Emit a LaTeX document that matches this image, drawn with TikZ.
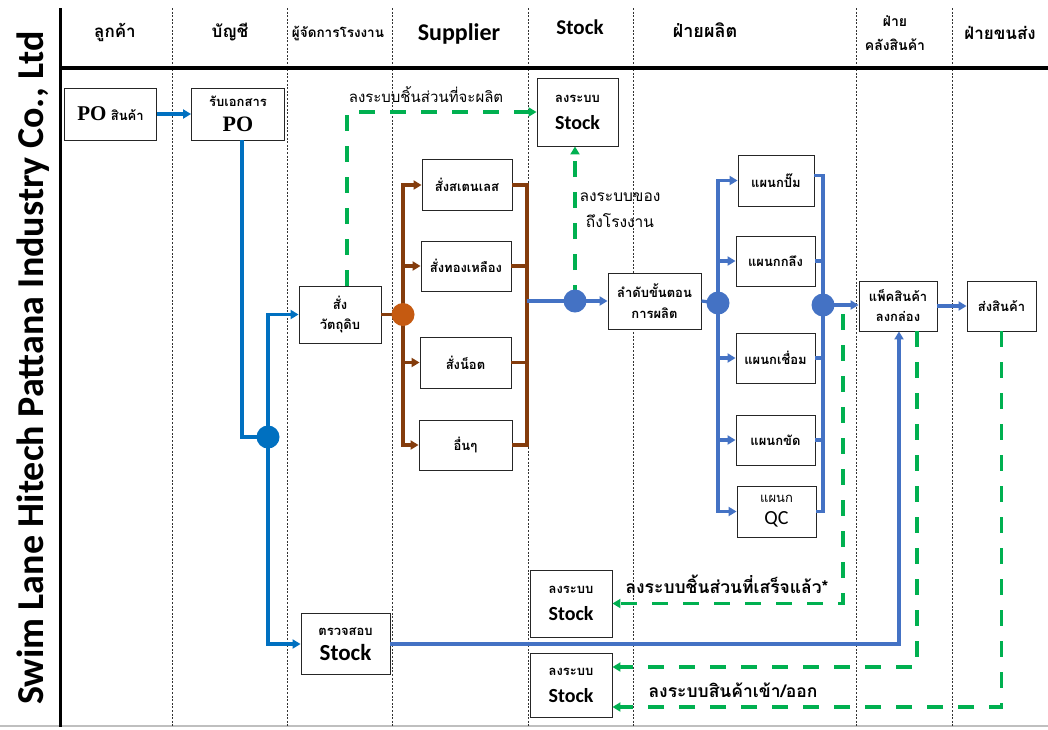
\documentclass[tikz,border=0pt]{standalone}
\usepackage{fontspec}
\setmainfont{Carlito}
\newfontfamily\thai[Script=Thai]{Loma}
\newfontfamily\serifb{Liberation Serif}
\usetikzlibrary{arrows.meta,calc}
\definecolor{bl}{HTML}{4472C4}
\definecolor{bld}{HTML}{0070C0}
\definecolor{brn}{HTML}{843C0C}
\definecolor{orn}{HTML}{C55A11}
\definecolor{grn}{HTML}{00B050}
\newcommand\stkfont{\rmfamily\bfseries\fontsize{20}{22}\selectfont}
\tikzset{
  box/.style={draw=black!85, line width=0.9pt, fill=white, align=center, inner sep=0pt,
    font=\thai\bfseries\fontsize{13}{18}\selectfont},
  hdr/.style={font=\thai\bfseries\fontsize{17}{22}\selectfont, align=center},
  hdrl/.style={font=\bfseries\fontsize{21}{24}\selectfont},
  lane/.style={draw=black!80, line width=0.7pt, dash pattern=on 2pt off 1.6pt},
  arr/.style={-{Triangle[length=8pt,width=9pt]}},
  bflow/.style={draw=bl, line width=3.2pt},
  lflow/.style={draw=bld, line width=3.2pt},
  brflow/.style={draw=brn, line width=3.2pt},
  gflow/.style={draw=grn, line width=3.4pt, dash pattern=on 16pt off 15pt},
  dot/.style={circle, inner sep=0pt, minimum size=23pt},
  glabel/.style={font=\thai\bfseries\fontsize{15}{20}\selectfont, align=center},
}
\begin{document}
\begin{tikzpicture}[x=1pt,y=-1pt]
\useasboundingbox[fill=white] (0,0) rectangle (1048,729);
% frame
\draw[black!25, line width=2pt] (0,726) -- (1048,726);
\foreach \lx in {172,287,392,528,633,856,952}
  \draw[lane] (\lx,8) -- (\lx,727);
\draw[black, line width=3pt] (60,8) -- (60,727);
\draw[black, line width=4.5pt] (60,68) -- (1048,68);
\node[rotate=90, font=\bfseries\fontsize{38}{40}\selectfont] (title) at (33,368) {Swim Lane Hitech Pattana Industry Co., Ltd};
% headers
\node[hdr] (h1) at (115,32) {ลูกค้า};
\node[hdr] (h2) at (230,32) {บัญชี};
\node[hdr, font=\thai\bfseries\fontsize{13.5}{16}\selectfont] (h3) at (338,34) {ผู้จัดการโรงงาน};
\node[hdrl, font=\bfseries\fontsize{24}{26}\selectfont] (h4) at (459,34) {Supplier};
\node[hdrl] (h5) at (580,27) {Stock};
\node[hdr, font=\thai\bfseries\fontsize{18}{22}\selectfont] (h6) at (705,30) {ฝ่ายผลิต};
\node[hdr, font=\thai\bfseries\fontsize{14}{24}\selectfont] (h7) at (895,33) {ฝ่าย\\คลังสินค้า};
\node[hdr] (h8) at (1000,33) {ฝ่ายขนส่ง};
% boxes
\node[box, minimum width=92pt, minimum height=52pt] (po) at (110.5,114) {{\serifb\bfseries\fontsize{21}{22}\selectfont PO} สินค้า};
\node[box, minimum width=93pt, minimum height=52pt] (rcv) at (238,114) {รับเอกสาร\\[7pt]{\serifb\bfseries\fontsize{22}{22}\selectfont PO}};
\node[box, minimum width=82pt, minimum height=57pt] (raw) at (340,314.5) {สั่ง\\[2pt]วัตถุดิบ};
\node[box, minimum width=90pt, minimum height=51pt] (ss) at (467,185) {สั่งสเตนเลส};
\node[box, minimum width=90pt, minimum height=50pt] (brs) at (466,266) {สั่งทองเหลือง};
\node[box, minimum width=91pt, minimum height=51pt] (nut) at (465.5,362.5) {สั่งน็อต};
\node[box, minimum width=93pt, minimum height=50pt] (oth) at (465.5,445) {อื่นๆ};
\node[box, minimum width=81pt, minimum height=68pt] (stk1) at (577.5,112) {ลงระบบ\\[9pt]{\stkfont Stock}};
\node[box, minimum width=93pt, minimum height=56pt] (seq) at (654.5,301) {ลำดับขั้นตอน\\[3pt]การผลิต};
\node[box, minimum width=76pt, minimum height=51pt] (stamp) at (776,180.5) {แผนกปั๊ม};
\node[box, minimum width=79pt, minimum height=50pt] (turn) at (775.5,261) {แผนกกลึง};
\node[box, minimum width=79pt, minimum height=50pt] (weld) at (775.5,358) {แผนกเชื่อม};
\node[box, minimum width=79pt, minimum height=50pt] (pol) at (775.5,440) {แผนกขัด};
\node[box, minimum width=79pt, minimum height=51pt] (qc) at (776.5,511.5) {{\mdseries แผนก}\\[4pt]{\rmfamily\mdseries\fontsize{20}{22}\selectfont QC}};
\node[box, minimum width=78pt, minimum height=50pt] (pack) at (898,306) {แพ็คสินค้า\\[2pt]ลงกล่อง};
\node[box, minimum width=69pt, minimum height=50pt] (ship) at (1001.5,306) {ส่งสินค้า};
\node[box, minimum width=89pt, minimum height=61pt] (chk) at (345.5,644) {ตรวจสอบ\\[7pt]{\rmfamily\bfseries\fontsize{23}{25}\selectfont Stock}};
\node[box, minimum width=82pt, minimum height=67pt] (stk2) at (571,603.5) {ลงระบบ\\[9pt]{\stkfont Stock}};
\node[box, minimum width=82pt, minimum height=64pt] (stk3) at (571,685) {ลงระบบ\\[9pt]{\stkfont Stock}};
% junction coordinates
\coordinate (j1) at (268,437);
\coordinate (j2) at (403,314.5);
\coordinate (kB) at (527,301);
\coordinate (j3) at (575,301);
\coordinate (j4) at (718,303);
\coordinate (j5) at (823,305);
\coordinate (g1) at (843,314);
% left blue flow
\draw[lflow, arr] (po) -- (rcv);
\draw[lflow] ([xshift=4pt]rcv.south) |- (j1);
\draw[lflow, arr] (j1) |- (raw.west);
\draw[lflow, arr] (j1) |- (chk.west);
% supplier (brown)
\draw[brflow] (raw.east) -- (j2);
\foreach \b in {ss,brs,nut,oth} {
  \draw[brflow, arr] (j2) |- (\b.west);
  \draw[brflow] (\b.east) -| (kB);
}
\draw[bflow] (kB) -- (j3);
\draw[bflow, arr] (j3) -- (seq.west);
% green top
\draw[gflow, arr] ([xshift=7pt]raw.north) |- (stk1.west);
\draw[gflow, arr] (j3) -- (j3 |- stk1.south);
% production
\draw[bflow] (seq.east) -- (j4);
\foreach \b in {stamp,turn,weld,pol,qc}
  \draw[bflow, arr] (j4) |- (\b.west);
\draw[bflow] ([yshift=5pt]stamp.east) -| (j5);
\foreach \b in {turn,weld,pol}
  \draw[bflow] (\b.east) -| (j5);
\draw[bflow] (qc.east) -| (j5);
\draw[bflow, arr] (j5) -- (j5 -| pack.west);
\draw[bflow, arr] (pack.east) -- (ship.west);
\draw[bflow, arr] (chk.east) -| ([xshift=1pt]pack.south);
% green bottom
\draw[gflow, arr] (g1) |- (stk2.east);
\draw[gflow, arr] ([xshift=19pt]pack.south) |- ([yshift=18pt]stk3.east);
\draw[gflow, arr] (ship.south) |- ([yshift=-22pt]stk3.east);
% dots
\node[dot, fill=bld] (c1) at (j1) {};
\node[dot, fill=orn] (c2) at (j2) {};
\node[dot, fill=bl] (c3) at (j3) {};
\node[dot, fill=bl] (c4) at (j4) {};
\node[dot, fill=bl] (c5) at (j5) {};
% labels
\node[glabel, font=\thai\fontsize{15}{20}\selectfont] (l1) at (426,95) {ลงระบบชิ้นส่วนที่จะผลิต};
\node[glabel, font=\thai\fontsize{15.5}{26}\selectfont] (l2) at (620,210) {ลงระบบของ\\ถึงโรงงาน};
\node[glabel, font=\thai\bfseries\fontsize{17.5}{20}\selectfont] (l3) at (727,584) {ลงระบบชิ้นส่วนที่เสร็จแล้ว*};
\node[glabel, font=\thai\bfseries\fontsize{17.5}{20}\selectfont] (l4) at (733,690) {ลงระบบสินค้าเข้า/ออก};
\end{tikzpicture}
\end{document}
